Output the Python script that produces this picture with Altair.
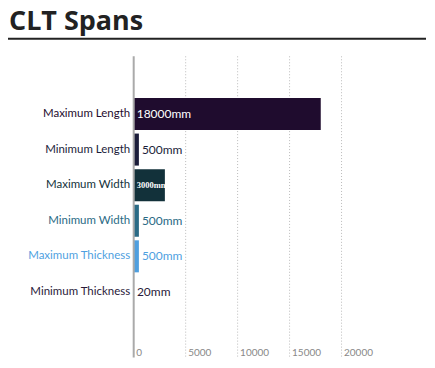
import altair as alt
import pandas as pd

categories = ["Maximum Length", "Minimum Length", "Maximum Width",
              "Minimum Width", "Maximum Thickness", "Minimum Thickness"]
values = [18000, 500, 3000, 500, 500, 20]
colors = ["#1f0c2e", "#1b1d3a", "#12313a", "#2a6a85", "#4f9fdf", "#2a1a3a"]
tick_values = [0, 5000, 10000, 15000, 20000]

df = pd.DataFrame({"cat": categories, "value": values, "color": colors})
df["label"] = df["value"].astype(str) + "mm"
df["inside"] = df["value"] >= 3000
df["big"] = df["value"] >= 10000
df["pos"] = df["value"].where(~df["inside"], 0)

ticks_df = pd.DataFrame({"t": tick_values})

FONT = "Lato"

label_color_expr = "datum.index==0?'%s':datum.index<0.3?'%s':datum.index<0.5?'%s':datum.index<0.7?'%s':datum.index<0.9?'%s':'%s'" % tuple(colors)

y_enc = alt.Y("cat:N", sort=categories,
              scale=alt.Scale(range=[40, 254], paddingInner=0.1, paddingOuter=0.05),
              axis=alt.Axis(title=None, ticks=False, domain=False,
                            labelPadding=4, labelFontSize=11.5,
                            labelFont=FONT,
                            labelColor=alt.ExprRef(label_color_expr)))

x_scale = alt.Scale(domain=[0, 24000], nice=False)
x_axis = alt.Axis(title=None, values=tick_values, grid=False, domain=False, ticks=False,
                  labelAlign="left", labelBaseline="alphabetic", labelPadding=-2,
                  labelOffset=2, labelFontSize=10, labelColor="#888888",
                  labelFont=FONT, format="d")

grid = alt.Chart(ticks_df).transform_filter("datum.t > 0").mark_rule(
    color="#bbbbbb", strokeDash=[1, 2], strokeWidth=1
).encode(x=alt.X("t:Q", scale=x_scale, axis=x_axis), y=alt.value(0), y2=alt.value(302))

domain_line = alt.Chart(ticks_df).transform_filter("datum.t == 0").mark_rule(
    color="#aaaaaa", strokeWidth=2
).encode(x=alt.X("t:Q"), y=alt.value(0), y2=alt.value(302))

base = alt.Chart(df)

bars = base.mark_bar().encode(
    y=y_enc,
    x=alt.X("value:Q", scale=x_scale, axis=x_axis),
    color=alt.Color("color:N", scale=None),
)

text_out = base.transform_filter("!datum.inside").mark_text(
    align="left", baseline="middle", dx=3, fontSize=12, font=FONT
).encode(
    y=alt.Y("cat:N", sort=categories),
    x=alt.X("pos:Q"),
    text="label:N",
    color=alt.Color("color:N", scale=None),
)

text_big = base.transform_filter("datum.big").mark_text(
    align="left", baseline="middle", dx=3, fontSize=12, font=FONT, color="white"
).encode(
    y=alt.Y("cat:N", sort=categories),
    x=alt.X("pos:Q"),
    text="label:N",
)

text_small = base.transform_filter("datum.inside && !datum.big").mark_text(
    align="left", baseline="middle", dx=3, fontSize=8.5, font="Liberation Serif",
    fontWeight="bold", color="white"
).encode(
    y=alt.Y("cat:N", sort=categories),
    x=alt.X("pos:Q"),
    text="label:N",
)

title_df = pd.DataFrame({"t": ["CLT Spans"]})
title = alt.Chart(title_df).mark_text(
    align="left", baseline="alphabetic", fontSize=27, fontWeight="bold",
    font="Open Sans", color="#222222"
).encode(text="t:N", x=alt.value(-125), y=alt.value(-26))

underline = alt.Chart(title_df).mark_rule(color="#222222", strokeWidth=2).encode(
    x=alt.value(-126), x2=alt.value(293), y=alt.value(-17.5)
)

chart = alt.layer(grid, bars, domain_line, text_out, text_big, text_small, title, underline).properties(
    width=250, height=302,
    autosize=alt.AutoSizeParams(type="none"),
    padding={"left": 126, "top": 48, "right": 44, "bottom": 0},
).configure_view(stroke=None)

chart.save("out.html", embed_options={"renderer": "svg", "actions": False})
